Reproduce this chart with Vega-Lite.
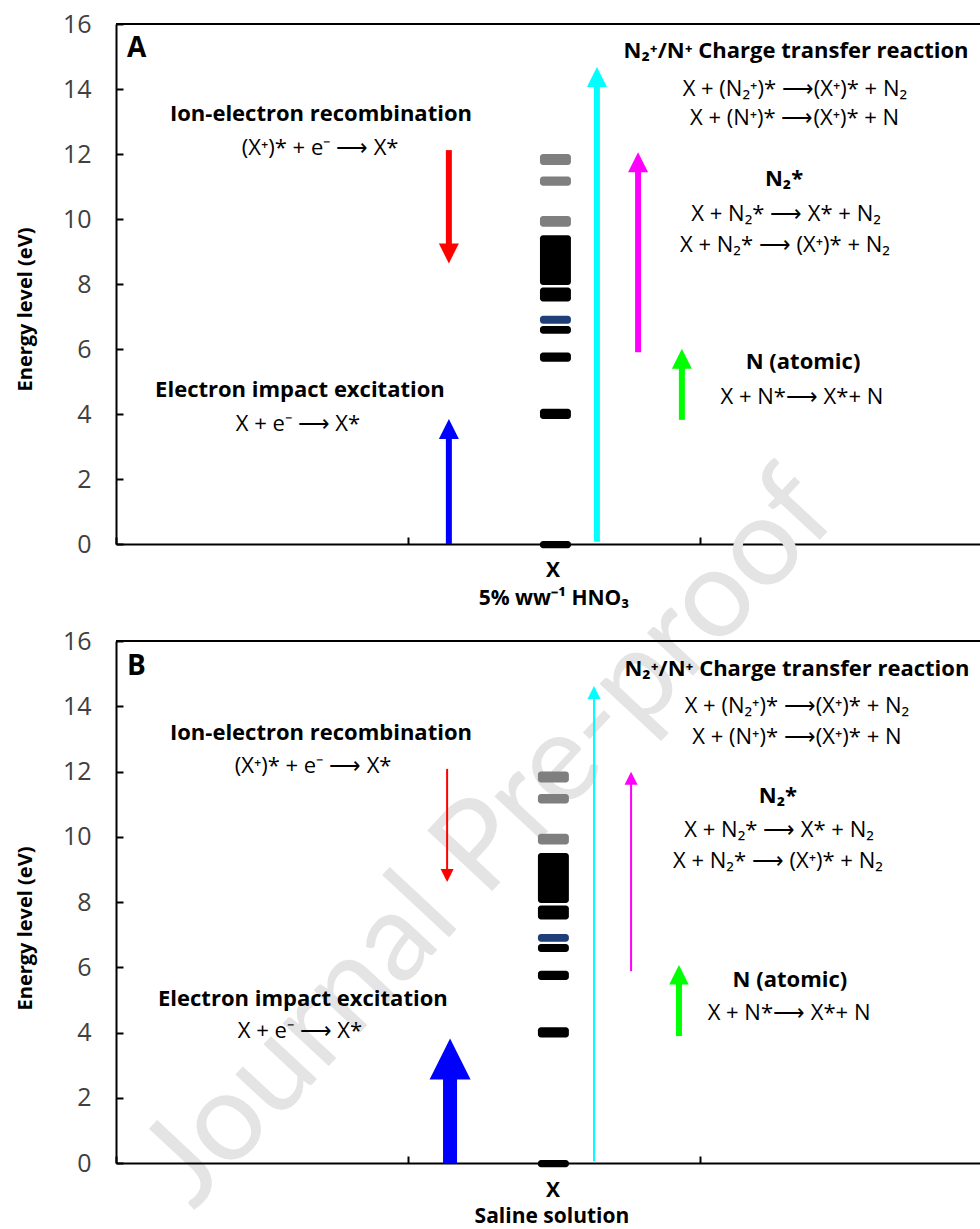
{
  "$schema": "https://vega.github.io/schema/vega-lite/v6.json",
  "background": "white",
  "padding": {"left": 15, "top": 12, "right": 0, "bottom": 0},
  "bounds": "flush",
  "spacing": 97,
  "config": {
    "view": {"stroke": null},
    "font": "Open Sans",
    "axisY": {
      "domainColor": "black", "domainWidth": 2,
      "tickColor": "black", "tickWidth": 2, "tickSize": -7,
      "labelFont": "Open Sans", "labelFontSize": 25, "labelColor": "#404040", "labelPadding": 32,
      "titleFont": "Open Sans", "titleFontSize": 20, "titleFontWeight": "bold", "titleColor": "black",
      "titleX": -91, "titleBaseline": "middle", "titleAlign": "center", "titleAngle": -90,
      "grid": false, "zindex": 1
    },
    "axisX": {
      "domainColor": "black", "domainWidth": 2,
      "tickColor": "black", "tickWidth": 2, "tickSize": -7,
      "labels": false, "grid": false, "zindex": 1
    }
  },
  "datasets": {
    "levels": [
      {"kind": "gray", "lo": 11.66, "hi": 12.0},
      {"kind": "gray", "lo": 11.02, "hi": 11.31},
      {"kind": "gray", "lo": 9.76, "hi": 10.09},
      {"kind": "black", "lo": 7.97, "hi": 9.5},
      {"kind": "black", "lo": 7.46, "hi": 7.89},
      {"kind": "navy", "lo": 6.78, "hi": 7.02},
      {"kind": "black", "lo": 6.47, "hi": 6.71},
      {"kind": "black", "lo": 5.61, "hi": 5.89},
      {"kind": "black", "lo": 3.85, "hi": 4.16},
      {"kind": "black", "lo": -0.13, "hi": 0.09}
    ],
    "top": [{"y": 16}],
    "watermark": [{"text": "Journal Pre-proof", "x": 1.281, "y": -9.08}],
    "arrowsA": [
      {"arrow": "red", "x": 1.14, "from": 12.12, "to": 9.15, "head": 8.94, "dir": "down"},
      {"arrow": "blue", "x": 1.14, "from": 0, "to": 3.35, "head": 3.54, "dir": "up"},
      {"arrow": "cyan", "x": 1.647, "from": 0.07, "to": 14.2, "head": 14.37, "dir": "up"},
      {"arrow": "magenta", "x": 1.788, "from": 5.9, "to": 11.55, "head": 11.75, "dir": "up"},
      {"arrow": "green", "x": 1.938, "from": 3.82, "to": 5.5, "head": 5.7, "dir": "up"}
    ],
    "arrowsB": [
      {"arrow": "red", "x": 1.134, "from": 12.08, "to": 9.0, "head": 8.81, "dir": "down"},
      {"arrow": "blue", "x": 1.144, "from": 0, "to": 2.7, "head": 3.19, "dir": "up"},
      {"arrow": "cyan", "x": 1.637, "from": 0.05, "to": 14.3, "head": 14.42, "dir": "up"},
      {"arrow": "magenta", "x": 1.764, "from": 5.88, "to": 11.7, "head": 11.79, "dir": "up"},
      {"arrow": "green", "x": 1.928, "from": 3.89, "to": 5.6, "head": 5.77, "dir": "up"}
    ],
    "labelsA": [
      {"role": "letter", "text": "A", "x": 0.038, "y": 15.23},
      {"role": "head", "text": "N₂⁺/N⁺ Charge transfer reaction", "x": 2.329, "y": 15.17},
      {"role": "eq", "text": "X + (N₂⁺)* ⟶(X⁺)* + N₂", "x": 2.325, "y": 14.0},
      {"role": "eq", "text": "X + (N⁺)* ⟶(X⁺)* + N", "x": 2.324, "y": 13.11},
      {"role": "head", "text": "N₂*", "x": 2.288, "y": 11.23},
      {"role": "eq", "text": "X + N₂* ⟶ X* + N₂", "x": 2.295, "y": 10.15},
      {"role": "eq", "text": "X + N₂* ⟶ (X⁺)* + N₂", "x": 2.291, "y": 9.2},
      {"role": "head", "text": "Ion-electron recombination", "x": 0.702, "y": 13.23},
      {"role": "eq", "text": "(X⁺)* + e⁻ ⟶ X*", "x": 0.699, "y": 12.18},
      {"role": "head", "text": "Electron impact excitation", "x": 0.63, "y": 4.74},
      {"role": "eq", "text": "X + e⁻ ⟶ X*", "x": 0.623, "y": 3.69},
      {"role": "head", "text": "N (atomic)", "x": 2.353, "y": 5.6},
      {"role": "eq", "text": "X + N*⟶ X*+ N", "x": 2.349, "y": 4.52},
      {"role": "xlab", "text": "X", "x": 1.497, "y": -0.83},
      {"role": "xlab", "text": "5% ww⁻¹ HNO₃", "x": 1.5, "y": -1.69}
    ],
    "labelsB": [
      {"role": "letter", "text": "B", "x": 0.038, "y": 15.2},
      {"role": "head", "text": "N₂⁺/N⁺ Charge transfer reaction", "x": 2.332, "y": 15.14},
      {"role": "eq", "text": "X + (N₂⁺)* ⟶(X⁺)* + N₂", "x": 2.332, "y": 14.0},
      {"role": "eq", "text": "X + (N⁺)* ⟶(X⁺)* + N", "x": 2.332, "y": 13.06},
      {"role": "head", "text": "N₂*", "x": 2.267, "y": 11.25},
      {"role": "eq", "text": "X + N₂* ⟶ X* + N₂", "x": 2.271, "y": 10.2},
      {"role": "eq", "text": "X + N₂* ⟶ (X⁺)* + N₂", "x": 2.267, "y": 9.26},
      {"role": "head", "text": "Ion-electron recombination", "x": 0.702, "y": 13.18},
      {"role": "eq", "text": "(X⁺)* + e⁻ ⟶ X*", "x": 0.675, "y": 12.17},
      {"role": "head", "text": "Electron impact excitation", "x": 0.64, "y": 5.03},
      {"role": "eq", "text": "X + e⁻ ⟶ X*", "x": 0.63, "y": 4.05},
      {"role": "head", "text": "N (atomic)", "x": 2.308, "y": 5.61},
      {"role": "eq", "text": "X + N*⟶ X*+ N", "x": 2.305, "y": 4.6},
      {"role": "xlab", "text": "X", "x": 1.497, "y": -0.86},
      {"role": "xlab", "text": "Saline solution", "x": 1.493, "y": -1.66}
    ]
  },
  "vconcat": [
    {
      "width": 864,
      "height": 520,
      "layer": [
        {
          "data": {"name": "watermark"},
          "mark": {"type": "text", "angle": -47, "fontSize": 124, "font": "Lato", "color": "#E4E4E4", "baseline": "middle", "align": "center"},
          "encoding": {
            "x": {"field": "x", "type": "quantitative", "scale": {"domain": [0, 2.959], "nice": false}, "axis": {"title": null, "values": [0, 1, 2]}},
            "y": {"field": "y", "type": "quantitative", "scale": {"domain": [0, 16], "nice": false}, "axis": {"title": "Energy level (eV)", "titleY": 285, "values": [0, 2, 4, 6, 8, 10, 12, 14, 16]}},
            "text": {"field": "text"}
          }
        },
        {
          "data": {"name": "top"},
          "mark": {"type": "rule", "color": "black", "strokeWidth": 2},
          "encoding": {"y": {"field": "y", "type": "quantitative", "scale": {"domain": [0, 16], "nice": false}}}
        },
        {
          "data": {"name": "levels"},
          "mark": {"type": "rect", "cornerRadius": 3},
          "encoding": {
            "x": {"datum": 1.452, "type": "quantitative", "scale": {"domain": [0, 2.959], "nice": false}},
            "x2": {"datum": 1.558},
            "y": {"field": "lo", "type": "quantitative", "scale": {"domain": [0, 16], "nice": false}},
            "y2": {"field": "hi"},
            "color": {"field": "kind", "type": "nominal", "legend": null,
              "scale": {"domain": ["gray", "black", "navy", "red", "blue", "cyan", "magenta", "green"],
                        "range": ["#7F7F7F", "#000000", "#203F78", "#FF0000", "#0000FF", "#00FFFF", "#FF00FF", "#00FF00"]}}
          }
        },
        {
          "data": {"name": "arrowsA"},
          "mark": {"type": "rule", "strokeWidth": 6, "strokeCap": "butt"},
          "encoding": {
            "x": {"field": "x", "type": "quantitative"},
            "y": {"field": "from", "type": "quantitative"},
            "y2": {"field": "to"},
            "color": {"field": "arrow", "type": "nominal", "legend": null}
          }
        },
        {
          "data": {"name": "arrowsA"},
          "mark": {"type": "point", "filled": true, "opacity": 1, "size": 400, "strokeWidth": 0},
          "encoding": {
            "x": {"field": "x", "type": "quantitative"},
            "y": {"field": "head", "type": "quantitative"},
            "color": {"field": "arrow", "type": "nominal", "legend": null},
            "shape": {"field": "dir", "type": "nominal", "legend": null,
              "scale": {"domain": ["up", "down"], "range": ["M0,-1L1,1L-1,1Z", "M0,1L1,-1L-1,-1Z"]}}
          }
        },
        {
          "data": {"name": "labelsA"},
          "transform": [{"filter": "datum.role === 'head'"}],
          "mark": {"type": "text", "fontWeight": "bold", "fontSize": 22, "color": "black", "baseline": "middle"},
          "encoding": {"x": {"field": "x", "type": "quantitative"}, "y": {"field": "y", "type": "quantitative"}, "text": {"field": "text"}}
        },
        {
          "data": {"name": "labelsA"},
          "transform": [{"filter": "datum.role === 'eq'"}],
          "mark": {"type": "text", "fontSize": 22, "color": "black", "baseline": "middle"},
          "encoding": {"x": {"field": "x", "type": "quantitative"}, "y": {"field": "y", "type": "quantitative"}, "text": {"field": "text"}}
        },
        {
          "data": {"name": "labelsA"},
          "transform": [{"filter": "datum.role === 'xlab'"}],
          "mark": {"type": "text", "fontWeight": "bold", "fontSize": 21, "color": "black", "baseline": "middle"},
          "encoding": {"x": {"field": "x", "type": "quantitative"}, "y": {"field": "y", "type": "quantitative"}, "text": {"field": "text"}}
        },
        {
          "data": {"name": "labelsA"},
          "transform": [{"filter": "datum.role === 'letter'"}],
          "mark": {"type": "text", "fontWeight": "bold", "fontSize": 28, "color": "black", "baseline": "middle", "align": "left"},
          "encoding": {"x": {"field": "x", "type": "quantitative"}, "y": {"field": "y", "type": "quantitative"}, "text": {"field": "text"}}
        }
      ]
    },
    {
      "width": 864,
      "height": 522,
      "layer": [
        {
          "data": {"name": "top"},
          "mark": {"type": "rule", "color": "black", "strokeWidth": 2},
          "encoding": {"y": {"field": "y", "type": "quantitative", "scale": {"domain": [0, 16], "nice": false}, "axis": {"title": "Energy level (eV)", "titleY": 287, "values": [0, 2, 4, 6, 8, 10, 12, 14, 16]}}}
        },
        {
          "data": {"name": "levels"},
          "mark": {"type": "rect", "cornerRadius": 3},
          "encoding": {
            "x": {"datum": 1.445, "type": "quantitative", "scale": {"domain": [0, 2.959], "nice": false}, "axis": {"title": null, "values": [0, 1, 2]}},
            "x2": {"datum": 1.551},
            "y": {"field": "lo", "type": "quantitative", "scale": {"domain": [0, 16], "nice": false}},
            "y2": {"field": "hi"},
            "color": {"field": "kind", "type": "nominal", "legend": null,
              "scale": {"domain": ["gray", "black", "navy", "red", "blue", "cyan", "magenta", "green"],
                        "range": ["#7F7F7F", "#000000", "#203F78", "#FF0000", "#0000FF", "#00FFFF", "#FF00FF", "#00FF00"]}}
          }
        },
        {
          "data": {"name": "arrowsB"},
          "transform": [{"filter": "datum.arrow === 'red' || datum.arrow === 'cyan' || datum.arrow === 'magenta'"}],
          "mark": {"type": "rule", "strokeWidth": 2, "strokeCap": "butt"},
          "encoding": {
            "x": {"field": "x", "type": "quantitative"},
            "y": {"field": "from", "type": "quantitative"},
            "y2": {"field": "to"},
            "color": {"field": "arrow", "type": "nominal", "legend": null}
          }
        },
        {
          "data": {"name": "arrowsB"},
          "transform": [{"filter": "datum.arrow === 'green'"}],
          "mark": {"type": "rule", "strokeWidth": 6, "strokeCap": "butt"},
          "encoding": {
            "x": {"field": "x", "type": "quantitative"},
            "y": {"field": "from", "type": "quantitative"},
            "y2": {"field": "to"},
            "color": {"field": "arrow", "type": "nominal", "legend": null}
          }
        },
        {
          "data": {"name": "arrowsB"},
          "transform": [{"filter": "datum.arrow === 'blue'"}],
          "mark": {"type": "rule", "strokeWidth": 14, "strokeCap": "butt"},
          "encoding": {
            "x": {"field": "x", "type": "quantitative"},
            "y": {"field": "from", "type": "quantitative"},
            "y2": {"field": "to"},
            "color": {"field": "arrow", "type": "nominal", "legend": null}
          }
        },
        {
          "data": {"name": "arrowsB"},
          "transform": [{"filter": "datum.arrow === 'red' || datum.arrow === 'cyan' || datum.arrow === 'magenta'"}],
          "mark": {"type": "point", "filled": true, "opacity": 1, "size": 169, "strokeWidth": 0},
          "encoding": {
            "x": {"field": "x", "type": "quantitative"},
            "y": {"field": "head", "type": "quantitative"},
            "color": {"field": "arrow", "type": "nominal", "legend": null},
            "shape": {"field": "dir", "type": "nominal", "legend": null,
              "scale": {"domain": ["up", "down"], "range": ["M0,-1L1,1L-1,1Z", "M0,1L1,-1L-1,-1Z"]}}
          }
        },
        {
          "data": {"name": "arrowsB"},
          "transform": [{"filter": "datum.arrow === 'green'"}],
          "mark": {"type": "point", "filled": true, "opacity": 1, "size": 380, "strokeWidth": 0},
          "encoding": {
            "x": {"field": "x", "type": "quantitative"},
            "y": {"field": "head", "type": "quantitative"},
            "color": {"field": "arrow", "type": "nominal", "legend": null},
            "shape": {"field": "dir", "type": "nominal", "legend": null,
              "scale": {"domain": ["up", "down"], "range": ["M0,-1L1,1L-1,1Z", "M0,1L1,-1L-1,-1Z"]}}
          }
        },
        {
          "data": {"name": "arrowsB"},
          "transform": [{"filter": "datum.arrow === 'blue'"}],
          "mark": {"type": "point", "filled": true, "opacity": 1, "size": 1681, "strokeWidth": 0},
          "encoding": {
            "x": {"field": "x", "type": "quantitative"},
            "y": {"field": "head", "type": "quantitative"},
            "color": {"field": "arrow", "type": "nominal", "legend": null},
            "shape": {"field": "dir", "type": "nominal", "legend": null,
              "scale": {"domain": ["up", "down"], "range": ["M0,-1L1,1L-1,1Z", "M0,1L1,-1L-1,-1Z"]}}
          }
        },
        {
          "data": {"name": "labelsB"},
          "transform": [{"filter": "datum.role === 'head'"}],
          "mark": {"type": "text", "fontWeight": "bold", "fontSize": 22, "color": "black", "baseline": "middle"},
          "encoding": {"x": {"field": "x", "type": "quantitative"}, "y": {"field": "y", "type": "quantitative"}, "text": {"field": "text"}}
        },
        {
          "data": {"name": "labelsB"},
          "transform": [{"filter": "datum.role === 'eq'"}],
          "mark": {"type": "text", "fontSize": 22, "color": "black", "baseline": "middle"},
          "encoding": {"x": {"field": "x", "type": "quantitative"}, "y": {"field": "y", "type": "quantitative"}, "text": {"field": "text"}}
        },
        {
          "data": {"name": "labelsB"},
          "transform": [{"filter": "datum.role === 'xlab'"}],
          "mark": {"type": "text", "fontWeight": "bold", "fontSize": 21, "color": "black", "baseline": "middle"},
          "encoding": {"x": {"field": "x", "type": "quantitative"}, "y": {"field": "y", "type": "quantitative"}, "text": {"field": "text"}}
        },
        {
          "data": {"name": "labelsB"},
          "transform": [{"filter": "datum.role === 'letter'"}],
          "mark": {"type": "text", "fontWeight": "bold", "fontSize": 28, "color": "black", "baseline": "middle", "align": "left"},
          "encoding": {"x": {"field": "x", "type": "quantitative"}, "y": {"field": "y", "type": "quantitative"}, "text": {"field": "text"}}
        }
      ]
    }
  ]
}
